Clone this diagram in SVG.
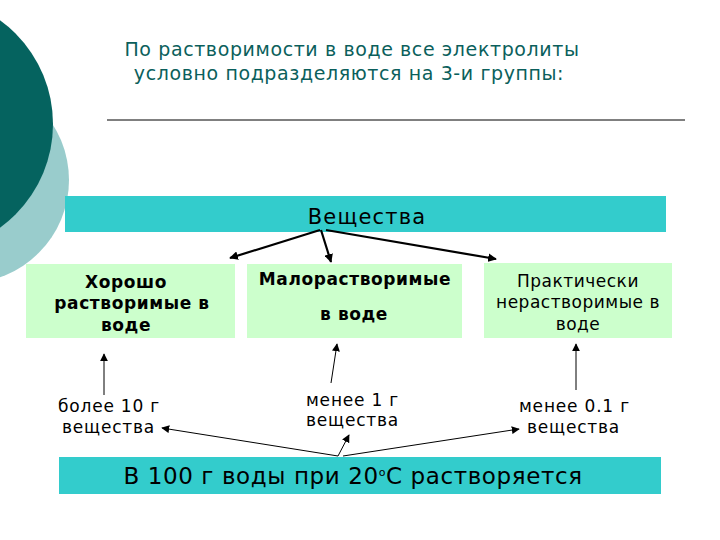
<svg xmlns="http://www.w3.org/2000/svg" width="720" height="540" viewBox="0 0 720 540">
<defs>
<style>
text{font-family:"DejaVu Sans","Noto Sans",sans-serif;fill:#000}
.title{fill:#0B5F5C;font-size:19px;letter-spacing:0.6px}
.teal{fill:#33CCCC}
.green{fill:#CCFFCC}
.lbl{font-size:17px;letter-spacing:0.8px}
.b{font-weight:bold;font-size:17px;letter-spacing:0.6px}
.r{font-size:17px;letter-spacing:0.5px}
.thick{stroke:#000;stroke-width:2.2;fill:none}
.thin{stroke:#000;stroke-width:1;fill:none}
</style>
<marker id="ah" viewBox="0 0 10 10" refX="9" refY="5" markerWidth="4" markerHeight="4" orient="auto" markerUnits="strokeWidth"><path d="M0,0 L10,5 L0,10 z" fill="#000"/></marker>
<marker id="ah2" viewBox="0 0 10 10" refX="9" refY="5" markerWidth="8" markerHeight="8" orient="auto" markerUnits="strokeWidth"><path d="M0,0 L10,5 L0,10 z" fill="#000"/></marker>
</defs>
<rect width="720" height="540" fill="#fff"/>
<g id="decor">
<circle cx="-34" cy="180" r="103" fill="#99CCCC"/>
<circle cx="-75" cy="124" r="128" fill="#05635F"/>
</g>
<g id="title">
<text class="title" x="352" y="56" text-anchor="middle">По растворимости в воде все электролиты</text>
<text class="title" x="349" y="80" text-anchor="middle">условно подразделяются на 3-и группы:</text>
<line x1="107" y1="120" x2="685" y2="120" stroke="#000" stroke-width="1"/>
</g>
<g id="substances">
<rect class="teal" x="65" y="196" width="601" height="36"/>
<text x="367" y="224" text-anchor="middle" font-size="21" letter-spacing="1.2">Вещества</text>
</g>
<g id="good">
<rect class="green" x="26" y="264" width="209" height="74"/>
<text class="b" x="126" y="288" text-anchor="middle">Хорошо</text>
<text class="b" x="132" y="309" text-anchor="middle">растворимые в</text>
<text class="b" x="126" y="331" text-anchor="middle">воде</text>
</g>
<g id="slight">
<rect class="green" x="247" y="264" width="215" height="74"/>
<text class="b" x="355" y="285" text-anchor="middle">Малорастворимые</text>
<text class="b" x="354" y="320" text-anchor="middle">в воде</text>
</g>
<g id="insoluble">
<rect class="green" x="484" y="263" width="188" height="75"/>
<text class="r" x="578" y="287" text-anchor="middle">Практически</text>
<text class="r" x="578" y="308" text-anchor="middle">нерастворимые в</text>
<text class="r" x="578" y="330" text-anchor="middle">воде</text>
</g>
<g id="labels">
<text class="lbl" x="58" y="412">более 10 г</text>
<text class="lbl" x="62" y="433">вещества</text>
<text class="lbl" x="306" y="406">менее 1 г</text>
<text class="lbl" x="306" y="426">вещества</text>
<text class="lbl" x="519" y="412">менее 0.1 г</text>
<text class="lbl" x="527" y="433">вещества</text>
</g>
<g id="bottom">
<rect class="teal" x="59" y="457" width="602" height="37"/>
<text x="353" y="484" text-anchor="middle" font-size="23" letter-spacing="0.6">В 100 г воды при 20<tspan font-size="11" dy="-8">о</tspan><tspan dy="8">С растворяется</tspan></text>
</g>
<g id="connectors">
<line class="thick" x1="320" y1="230" x2="230" y2="258" marker-end="url(#ah)"/>
<line class="thick" x1="321" y1="230" x2="331" y2="262" marker-end="url(#ah)"/>
<line class="thick" x1="326" y1="230" x2="496" y2="259" marker-end="url(#ah)"/>
<line class="thin" x1="104" y1="395" x2="104" y2="354" marker-end="url(#ah2)"/>
<line class="thin" x1="331" y1="383" x2="337" y2="344" marker-end="url(#ah2)"/>
<line class="thin" x1="576" y1="390" x2="576" y2="344" marker-end="url(#ah2)"/>
<line class="thin" x1="338" y1="456" x2="162" y2="428" marker-end="url(#ah2)"/>
<line class="thin" x1="338" y1="456" x2="349" y2="435" marker-end="url(#ah2)"/>
<line class="thin" x1="343" y1="456" x2="519" y2="429" marker-end="url(#ah2)"/>
</g>
</svg>
